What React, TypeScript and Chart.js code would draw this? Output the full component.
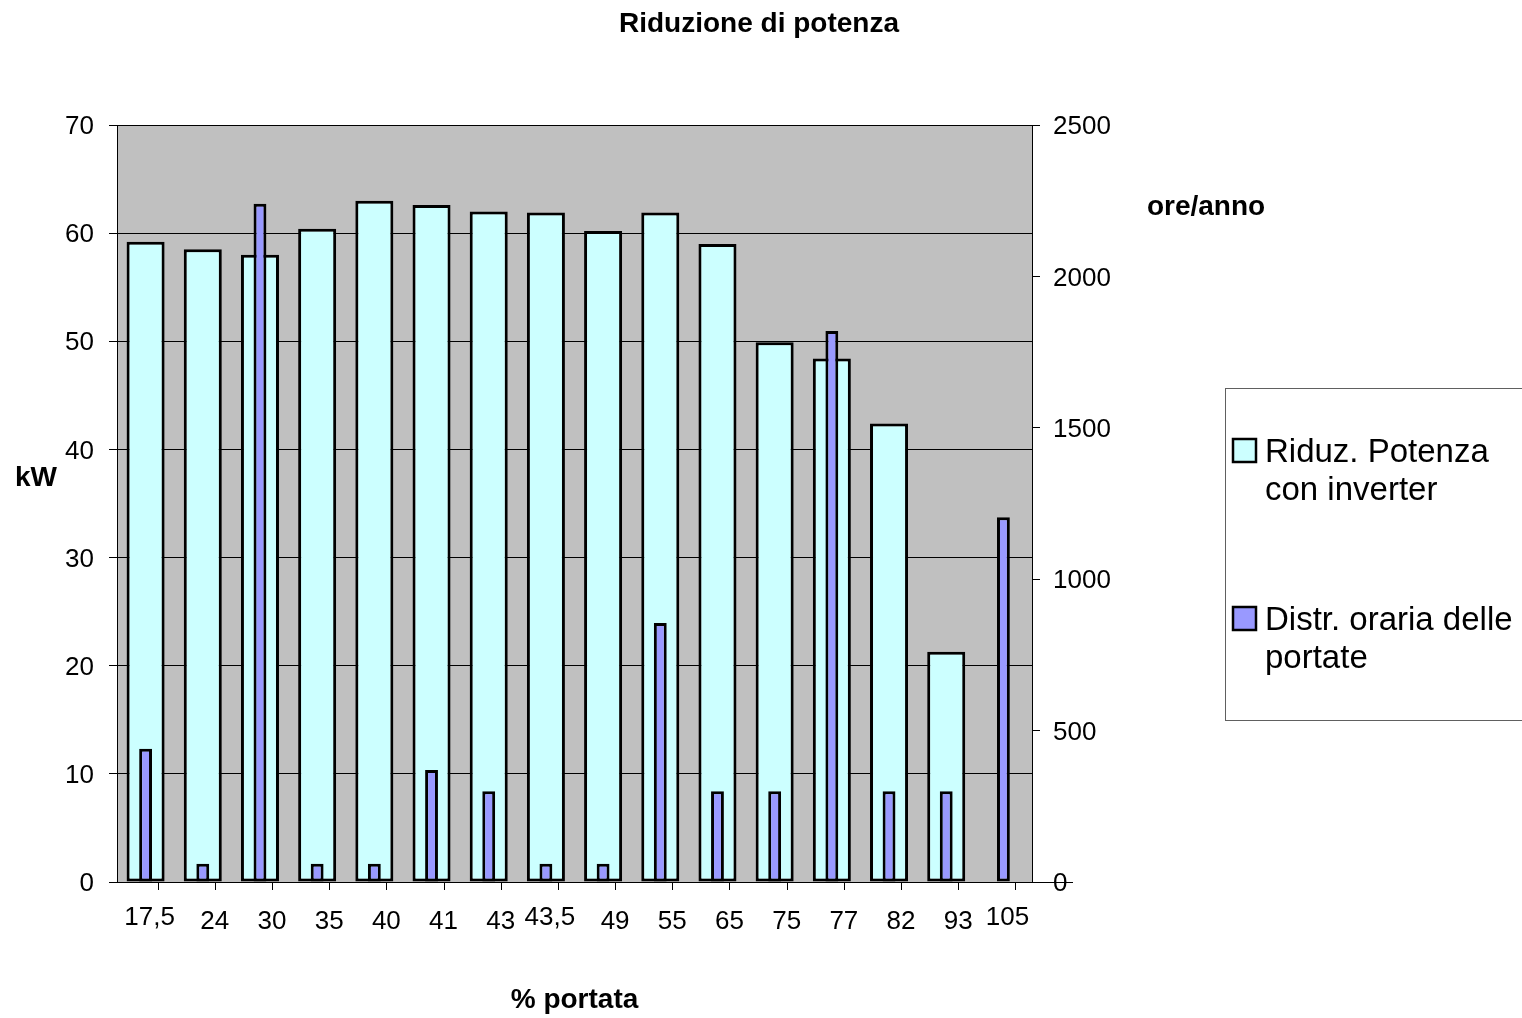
import React, { useEffect, useRef } from "react";
import { Chart, registerables } from "chart.js";

Chart.register(...registerables);

const categories = ["17,5", "24", "30", "35", "40", "41", "43", "43,5", "49", "55", "65", "75", "77", "82", "93", "105"];
const riduzPotenza = [59.2, 58.5, 58.0, 60.4, 63.0, 62.6, 62.0, 61.9, 60.2, 61.9, 59.0, 49.9, 48.4, 42.4, 21.3, null];
const distrOraria = [440, 60, 2240, 60, 60, 370, 300, 60, 60, 855, 300, 300, 1820, 300, 300, 1205];

const leftTicks = { min: 0, max: 70, step: 10 };
const rightTicks = { min: 0, max: 2500, step: 500 };

const chartTitle = "Riduzione di potenza";
const xTitle = "% portata";
const yTitle = "kW";
const y1Title = "ore/anno";
const legendLabels = [
  ["Riduz. Potenza", "con inverter"],
  ["Distr. oraria delle", "portate"],
];

const FONT = '"Liberation Sans", Arial, Helvetica, sans-serif';
const CYAN = "#CCFFFF";
const PURPLE = "#9999FF";
const PLOT_BG = "#C0C0C0";

const decorPlugin = {
  id: "decor",
  beforeDraw(chart: any) {
    const { ctx, chartArea } = chart;
    ctx.save();
    ctx.fillStyle = "#ffffff";
    ctx.fillRect(0, 0, chart.width, chart.height);
    ctx.fillStyle = PLOT_BG;
    ctx.fillRect(chartArea.left, chartArea.top, chartArea.right - chartArea.left, chartArea.bottom - chartArea.top);
    ctx.restore();
  },
  afterDraw(chart: any) {
    const { ctx, chartArea } = chart;
    const xs = chart.scales.x;
    ctx.save();
    // x tick marks and labels (offset like the original)
    ctx.strokeStyle = "#000";
    ctx.lineWidth = 1;
    ctx.fillStyle = "#000";
    ctx.font = `26px ${FONT}`;
    ctx.textAlign = "center";
    ctx.textBaseline = "middle";
    for (let i = 0; i < categories.length; i++) {
      const tx = xs.getPixelForValue(i) + 12;
      const x = Math.round(tx) + 0.5;
      ctx.beginPath();
      ctx.moveTo(x, chartArea.bottom);
      ctx.lineTo(x, chartArea.bottom + 8);
      ctx.stroke();
      const wide = categories[i].length > 2;
      ctx.fillText(categories[i], tx + (wide ? -8 : 0), chartArea.bottom + (wide ? 36 : 40));
    }
    // axis line extension to the right
    ctx.beginPath();
    ctx.moveTo(chartArea.right, Math.round(chartArea.bottom) + 0.5);
    ctx.lineTo(chartArea.right + 41, Math.round(chartArea.bottom) + 0.5);
    ctx.stroke();

    // titles
    ctx.fillStyle = "#000";
    ctx.textAlign = "center";
    ctx.textBaseline = "middle";
    ctx.font = `bold 28px ${FONT}`;
    ctx.fillText(chartTitle, 759, 24);
    ctx.fillText(yTitle, 36, 478);
    ctx.fillText(y1Title, 1206, 207);
    ctx.fillText(xTitle, (chartArea.left + chartArea.right) / 2, 1000);

    // legend
    ctx.strokeStyle = "#606060";
    ctx.lineWidth = 1;
    ctx.strokeRect(1225.5, 388.5, 320, 332);
    const colors = [CYAN, PURPLE];
    const tops = [439, 607];
    ctx.font = `33px ${FONT}`;
    ctx.textAlign = "left";
    ctx.textBaseline = "alphabetic";
    for (let k = 0; k < 2; k++) {
      ctx.fillStyle = colors[k];
      ctx.fillRect(1233, tops[k], 23, 23);
      ctx.strokeStyle = "#000";
      ctx.lineWidth = 2.5;
      ctx.strokeRect(1233, tops[k], 23, 23);
      ctx.fillStyle = "#000";
      legendLabels[k].forEach((line, j) => {
        ctx.fillText(line, 1265, tops[k] + 23 + j * 38);
      });
    }
    ctx.restore();
  },
};

export default function App() {
  const ref = useRef<HTMLCanvasElement | null>(null);
  useEffect(() => {
    if (!ref.current) return;
    const chart = new Chart(ref.current, {
      type: "bar",
      data: {
        labels: categories,
        datasets: [
          {
            label: legendLabels[0].join(" "),
            data: riduzPotenza,
            backgroundColor: CYAN,
            borderColor: "#000",
            borderWidth: 3,
            borderSkipped: false,
            yAxisID: "y",
            grouped: false,
            barPercentage: 0.665,
            categoryPercentage: 1,
            order: 2,
          },
          {
            label: legendLabels[1].join(" "),
            data: distrOraria,
            backgroundColor: PURPLE,
            borderColor: "#000",
            borderWidth: 3,
            borderSkipped: false,
            yAxisID: "y1",
            grouped: false,
            barPercentage: 0.225,
            categoryPercentage: 1,
            order: 1,
          },
        ] as any,
      },
      options: {
        animation: false,
        responsive: false,
        devicePixelRatio: 1,
        layout: { padding: { top: 125, left: 0, right: 0, bottom: 0 } },
        plugins: {
          legend: { display: false },
          title: { display: false },
          tooltip: { enabled: false },
        },
        scales: {
          x: {
            type: "category",
            offset: true,
            grid: { display: false },
            border: { display: true, color: "#000", width: 1 },
            ticks: { display: false },
            afterFit(scale: any) {
              scale.height = 1018 - 882;
            },
          },
          y: {
            position: "left",
            min: leftTicks.min,
            max: leftTicks.max,
            ticks: {
              stepSize: leftTicks.step,
              color: "#000",
              font: { family: FONT, size: 26 },
              padding: 15,
              labelOffset: 2,
            },
            grid: { color: "#000", lineWidth: 1, tickLength: 8, drawTicks: true },
            border: { display: true, color: "#000", width: 1 },
            afterFit(scale: any) {
              scale.width = 117;
            },
          },
          y1: {
            position: "right",
            min: rightTicks.min,
            max: rightTicks.max,
            ticks: {
              stepSize: rightTicks.step,
              color: "#000",
              font: { family: FONT, size: 26 },
              padding: 13,
              labelOffset: 2,
              callback: (v: any) => String(v),
            },
            grid: { drawOnChartArea: false, color: "#000", tickLength: 8, drawTicks: true },
            border: { display: true, color: "#000", width: 1 },
            afterFit(scale: any) {
              scale.width = 1522 - 1032;
            },
          },
        },
      } as any,
      plugins: [decorPlugin],
    });
    return () => chart.destroy();
  }, []);
  return (
    <div style={{ position: "absolute", left: 0, top: 0, width: 1522, height: 1018, background: "#fff" }}>
      <canvas ref={ref} width={1522} height={1018} style={{ display: "block", width: 1522, height: 1018 }} />
    </div>
  );
}
